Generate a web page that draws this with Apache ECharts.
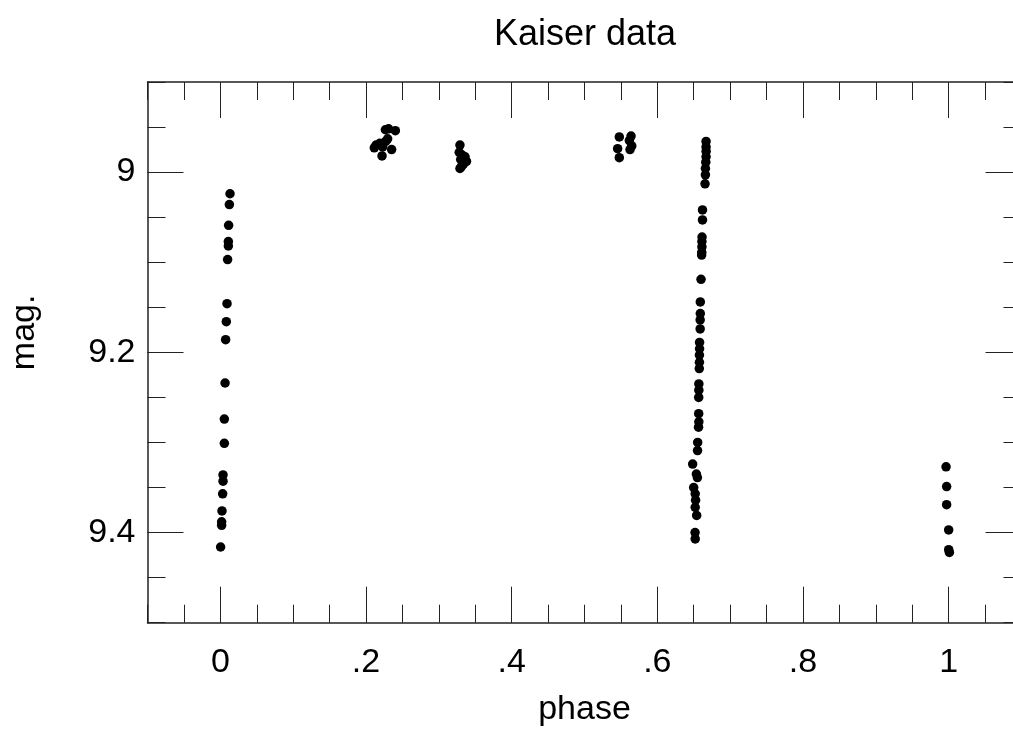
<!DOCTYPE html>
<html>
<head>
<meta charset="utf-8">
<script src="https://cdn.jsdelivr.net/npm/echarts@6/dist/echarts.min.js"></script>
<style>
html,body{margin:0;padding:0;background:#fff;}
#chart{width:1013px;height:731px;}
</style>
</head>
<body>
<div id="chart"></div>
<script>
// ---- data ----
const phase = [
  0.0133, 0.0124, 0.0114, 0.0110, 0.0110, 0.0100, 0.0092, 0.0082, 0.0073, 0.0065,
  0.0055, 0.0055, 0.0037, 0.0037, 0.0032, 0.0023, 0.0018, 0.0018, 0.0004,
  0.2266, 0.2403, 0.2297, 0.2138, 0.2114, 0.2229, 0.2352, 0.2220, 0.2310, 0.2190, 0.2270,
  0.329, 0.328, 0.332, 0.336, 0.330, 0.338, 0.334, 0.329, 0.331,
  0.5478, 0.5639, 0.5616, 0.5455, 0.5625, 0.5478, 0.5649,
  0.6669, 0.6669, 0.6670, 0.6669, 0.6665, 0.6660, 0.6660, 0.6655,
  0.6620, 0.6620, 0.6614, 0.6612, 0.6612, 0.6610, 0.6608,
  0.6600, 0.6590, 0.6590, 0.6588, 0.6588,
  0.6580, 0.6580, 0.6578, 0.6578, 0.6576,
  0.6570, 0.6570, 0.6568, 0.6568, 0.6570, 0.6566,
  0.6554, 0.6552, 0.6485, 0.6536, 0.6550, 0.6499,
  0.6520, 0.6525, 0.6520, 0.6540, 0.6518, 0.6520,
  0.9964, 0.9972, 0.9972, 1.0000, 1.0000, 1.0010
];
const mag = [
  9.024, 9.036, 9.059, 9.077, 9.082, 9.097, 9.146, 9.166, 9.186, 9.234,
  9.274, 9.301, 9.336, 9.343, 9.357, 9.376, 9.388, 9.392, 9.416,
  8.953, 8.954, 8.963, 8.970, 8.973, 8.972, 8.975, 8.982, 8.952, 8.968, 8.966,
  8.970, 8.978, 8.981, 8.983, 8.986, 8.988, 8.991, 8.996, 8.994,
  8.961, 8.960, 8.965, 8.974, 8.975, 8.984, 8.971,
  8.966, 8.972, 8.977, 8.983, 8.989, 8.996, 9.003, 9.013,
  9.042, 9.053, 9.072, 9.077, 9.083, 9.089, 9.092,
  9.119, 9.144, 9.157, 9.164, 9.174,
  9.189, 9.196, 9.203, 9.211, 9.218,
  9.235, 9.242, 9.250, 9.268, 9.277, 9.283,
  9.300, 9.309, 9.324, 9.335, 9.339, 9.350,
  9.357, 9.364, 9.372, 9.381, 9.400, 9.407,
  9.327, 9.349, 9.369, 9.397, 9.419, 9.422
];
const xMajorTicks = [0, 0.2, 0.4, 0.6, 0.8, 1];
const xTickLabels = ['0', '.2', '.4', '.6', '.8', '1'];
const yMajorTicks = [9, 9.2, 9.4];
const yTickLabels = ['9', '9.2', '9.4'];
const titleText = 'Kaiser data';
const xName = 'phase';
const yName = 'mag.';

// ---- chart ----
const FONT = 'Liberation Sans, Arial, sans-serif';
const FS = 34;
const LINE = '#222';
const X_MIN = -0.1, X_MAX = 1.1, Y_MIN = 8.9, Y_MAX = 9.5;

const points = phase.map((p, i) => [p, mag[i]]);

function xAxis(pos, major, withLabels) {
  const ax = {
    type: 'value', position: pos, min: X_MIN, max: X_MAX,
    axisLine: { show: major, onZero: false, lineStyle: { color: LINE, width: 1.5 } },
    splitLine: { show: false },
    axisTick: { show: true, inside: true, length: major ? 36 : 18,
                lineStyle: { color: LINE, width: 1 } },
    axisLabel: { show: false }
  };
  if (major) {
    ax.axisTick.customValues = xMajorTicks;
    if (withLabels) {
      ax.axisLabel = {
        show: true, customValues: xMajorTicks, margin: 23,
        fontSize: FS, fontFamily: FONT, color: '#000',
        formatter: v => xTickLabels[xMajorTicks.findIndex(t => Math.abs(t - v) < 1e-9)]
      };
      ax.name = xName; ax.nameLocation = 'middle'; ax.nameGap = 70;
      ax.nameTextStyle = { fontSize: FS, fontFamily: FONT, color: '#000' };
    }
  } else {
    ax.interval = 0.05;
  }
  return ax;
}
function yAxis(pos, major, withLabels) {
  const ax = {
    type: 'value', position: pos, min: Y_MIN, max: Y_MAX, inverse: true,
    axisLine: { show: major, onZero: false, lineStyle: { color: LINE, width: 1.5 } },
    splitLine: { show: false },
    axisTick: { show: true, inside: true, length: major ? 36 : 18,
                lineStyle: { color: LINE, width: 1 } },
    axisLabel: { show: false }
  };
  if (major) {
    ax.axisTick.customValues = yMajorTicks;
    if (withLabels) {
      ax.axisLabel = {
        show: true, customValues: yMajorTicks, margin: 12,
        fontSize: FS, fontFamily: FONT, color: '#000',
        formatter: v => yTickLabels[yMajorTicks.findIndex(t => Math.abs(t - v) < 1e-9)]
      };
      ax.name = yName; ax.nameLocation = 'middle'; ax.nameGap = 106;
      ax.nameTextStyle = { fontSize: FS, fontFamily: FONT, color: '#000', padding: [0, 0, 0, 40] };
    }
  } else {
    ax.interval = 0.05;
  }
  return ax;
}

const chart = echarts.init(document.getElementById('chart'), null, { renderer: 'canvas' });
chart.setOption({
  animation: false,
  backgroundColor: '#fff',
  title: {
    text: titleText, left: 580, top: 12, textAlign: 'center',
    textStyle: { fontSize: 36, fontWeight: 'normal', fontFamily: FONT, color: '#000' }
  },
  grid: { left: 147.5, right: -8.5, top: 82, bottom: 108.3, containLabel: false, outerBoundsMode: 'none' },
  xAxis: [
    xAxis('bottom', true, true),
    xAxis('bottom', false, false),
    xAxis('top', true, false),
    xAxis('top', false, false)
  ],
  yAxis: [
    yAxis('left', true, true),
    yAxis('left', false, false),
    yAxis('right', true, false),
    yAxis('right', false, false)
  ],
  series: [{
    type: 'scatter', xAxisIndex: 0, yAxisIndex: 0,
    symbol: 'circle', symbolSize: 9.5,
    itemStyle: { color: '#000', opacity: 1 },
    data: points
  }]
});
</script>
</body>
</html>
